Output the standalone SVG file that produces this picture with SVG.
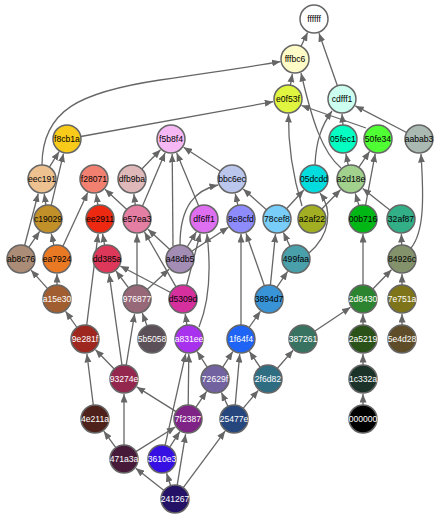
<svg xmlns="http://www.w3.org/2000/svg" width="441" height="520" viewBox="0 0 441 520">
<style>
.e{fill:none;stroke:#666;stroke-width:1.3;marker-end:url(#ah)}
.n circle{stroke:#666;stroke-width:1.5}
.n text{font-family:"Liberation Sans",Arial,sans-serif;font-size:8.6px;text-anchor:middle;dominant-baseline:central;fill:#000}
.n.w text{fill:#fff}
</style>
<defs>
<marker id="ah" markerUnits="userSpaceOnUse" markerWidth="9" markerHeight="7" refX="8.5" refY="3.5" orient="auto">
<path d="M0,0 L8.5,3.5 L0,7 z" fill="#666"/>
</marker>
</defs>
<rect width="441" height="520" fill="#fff"/>
<g id="edges">
<path class="e" d="M301,46.4 L307.6,32.5"/>
<path class="e" d="M337.4,85.8 L319,33.2"/>
<path class="e" d="M290.4,85.2 L292.4,73.8"/>
<path class="e" d="M42,165 C42,110 80,92 160,80 S255,66 280.5,61.6"/>
<path class="e" d="M80.8,136.5 L273.2,101.7"/>
<path class="e" d="M341,168 C322,152 312,120 301,73"/>
<path class="e" d="M302,206 C294,180 288,150 288.5,114"/>
<path class="e" d="M366,128 L301.5,105.5"/>
<path class="e" d="M343,125 L342,114"/>
<path class="e" d="M406.6,132.5 L355.3,105.9"/>
<path class="e" d="M315,165 C316,140 322,125 332,111"/>
<path class="e" d="M348.3,165.3 L345.9,153.7"/>
<path class="e" d="M358.8,167.4 L369.6,151.4"/>
<path class="e" d="M365.6,205.2 L375.2,153.7"/>
<path class="e" d="M411,248 C424,232 424,200 421,154"/>
<path class="e" d="M49.4,167.1 L59.1,151.7"/>
<path class="e" d="M51.2,205.4 L63.5,153.6"/>
<path class="e" d="M45.9,205.2 L44.2,193.8"/>
<path class="e" d="M24.6,245.5 L38.2,193.5"/>
<path class="e" d="M28.8,247.4 L39.6,231.4"/>
<path class="e" d="M53.9,245.3 L51.3,233.6"/>
<path class="e" d="M62.9,246.3 L87.7,192.6"/>
<path class="e" d="M97.9,205.2 L96.2,193.8"/>
<path class="e" d="M126.8,209.5 L105,189.2"/>
<path class="e" d="M135.3,205.1 L133.9,193.9"/>
<path class="e" d="M142.5,206.1 L165.1,152.8"/>
<path class="e" d="M141.8,169 L160.5,149.7"/>
<path class="e" d="M173,246 L172.2,154"/>
<path class="e" d="M198.7,206 L176.7,152.9"/>
<path class="e" d="M220.3,171.3 L183.6,147.2"/>
<path class="e" d="M237.9,205.3 L235.3,193.6"/>
<path class="e" d="M266.5,209.7 L243.2,189"/>
<path class="e" d="M180,245 C180,205 196,190 218,185"/>
<path class="e" d="M286.5,208.7 L303.8,190"/>
<path class="e" d="M309,253 C330,235 333,210 320,193"/>
<path class="e" d="M321.8,209 L340.5,189.7"/>
<path class="e" d="M359,205.6 L355.3,193.4"/>
<path class="e" d="M390.1,210.3 L362.7,188.4"/>
<path class="e" d="M401.7,245 L401.4,234"/>
<path class="e" d="M363,285 L363,234"/>
<path class="e" d="M372.8,289 L391.5,269.7"/>
<path class="e" d="M402,285 L402,274"/>
<path class="e" d="M402,325 L402,314"/>
<path class="e" d="M363,325 L363,314"/>
<path class="e" d="M363,365 L363,354"/>
<path class="e" d="M363,405 L363,394"/>
<path class="e" d="M314.6,331.2 L350.5,307.3"/>
<path class="e" d="M277.2,368.5 L293.1,350.3"/>
<path class="e" d="M260.2,367.4 L249.4,351.4"/>
<path class="e" d="M243.1,408.3 L258.3,390.4"/>
<path class="e" d="M235.2,405.1 L239.7,354.1"/>
<path class="e" d="M228,406.4 L221.4,392.5"/>
<path class="e" d="M222.6,367.3 L232.8,351.6"/>
<path class="e" d="M207.4,367.3 L197.2,351.6"/>
<path class="e" d="M241,325 L241,234"/>
<path class="e" d="M249,327.5 L260.4,311.3"/>
<path class="e" d="M264.4,285.8 L246,233.2"/>
<path class="e" d="M270.4,285.1 L275.5,233.9"/>
<path class="e" d="M276.8,287.4 L287.6,271.4"/>
<path class="e" d="M290,246.4 L283.4,232.5"/>
<path class="e" d="M191.7,251.3 L228.4,227.2"/>
<path class="e" d="M187.2,247 L196.3,231.9"/>
<path class="e" d="M169.8,249.5 L148,229.2"/>
<path class="e" d="M137,285 L137,234"/>
<path class="e" d="M147.2,289.5 L169,269.2"/>
<path class="e" d="M128.6,287.8 L116,271"/>
<path class="e" d="M176,286.9 L144.5,232"/>
<path class="e" d="M170.6,292.5 L120.3,266"/>
<path class="e" d="M186.6,285.5 L200.2,233.5"/>
<path class="e" d="M186.9,325.2 L185.2,313.8"/>
<path class="e" d="M199,327 C210,300 211,268 207,234"/>
<path class="e" d="M147.1,325.9 L142.3,313.1"/>
<path class="e" d="M126.2,365.2 L134.6,313.8"/>
<path class="e" d="M122,365.1 L109.1,273.9"/>
<path class="e" d="M114.2,369 L95.5,349.7"/>
<path class="e" d="M104.6,245.2 L102.6,233.8"/>
<path class="e" d="M86.7,325.1 L98.1,233.9"/>
<path class="e" d="M77,327.5 L65.6,311.3"/>
<path class="e" d="M47.6,288.6 L31,270.1"/>
<path class="e" d="M57,285 L57,274"/>
<path class="e" d="M93.3,405.1 L86.9,353.9"/>
<path class="e" d="M115.8,447.7 L103.8,431.2"/>
<path class="e" d="M124,445 L124,394"/>
<path class="e" d="M135.9,451.6 L175.3,427"/>
<path class="e" d="M176.1,411.6 L136.7,386.9"/>
<path class="e" d="M188.2,405 L188.8,354"/>
<path class="e" d="M195.8,407.4 L206.6,391.4"/>
<path class="e" d="M169.6,447.3 L179.8,431.6"/>
<path class="e" d="M165.1,445.3 L185.7,353.6"/>
<path class="e" d="M170.7,485.7 L166.6,473.3"/>
<path class="e" d="M164,490.4 L135.8,468.3"/>
<path class="e" d="M177.2,485.2 L185.6,434.2"/>
<path class="e" d="M183.3,487.7 L225.1,431.1"/>
</g>
<g id="n-ffffff" class="n"><circle cx="314" cy="19" r="14" fill="#ffffff"/><text x="314" y="19">ffffff</text></g>
<g id="n-fffbc6" class="n"><circle cx="295" cy="59" r="14" fill="#fffbc6"/><text x="295" y="59">fffbc6</text></g>
<g id="n-e0f53f" class="n"><circle cx="288" cy="99" r="14" fill="#e0f53f"/><text x="288" y="99">e0f53f</text></g>
<g id="n-cdfff1" class="n"><circle cx="342" cy="99" r="14" fill="#cdfff1"/><text x="342" y="99">cdfff1</text></g>
<g id="n-f8cb1a" class="n"><circle cx="67" cy="139" r="14" fill="#f8cb1a"/><text x="67" y="139">f8cb1a</text></g>
<g id="n-f5b8f4" class="n"><circle cx="171" cy="139" r="14" fill="#f5b8f4"/><text x="171" y="139">f5b8f4</text></g>
<g id="n-05fec1" class="n"><circle cx="343" cy="139" r="14" fill="#05fec1"/><text x="343" y="139">05fec1</text></g>
<g id="n-50fe34" class="n"><circle cx="378" cy="139" r="14" fill="#50fe34"/><text x="378" y="139">50fe34</text></g>
<g id="n-aabab3" class="n"><circle cx="419" cy="139" r="14" fill="#aabab3"/><text x="419" y="139">aabab3</text></g>
<g id="n-eec191" class="n"><circle cx="42" cy="179" r="14" fill="#eec191"/><text x="42" y="179">eec191</text></g>
<g id="n-f28071" class="n"><circle cx="94" cy="179" r="14" fill="#f28071"/><text x="94" y="179">f28071</text></g>
<g id="n-dfb9ba" class="n"><circle cx="132" cy="179" r="14" fill="#dfb9ba"/><text x="132" y="179">dfb9ba</text></g>
<g id="n-bbc6ec" class="n"><circle cx="232" cy="179" r="14" fill="#bbc6ec"/><text x="232" y="179">bbc6ec</text></g>
<g id="n-05dcdd" class="n"><circle cx="314" cy="179" r="14" fill="#05dcdd"/><text x="314" y="179">05dcdd</text></g>
<g id="n-a2d18e" class="n"><circle cx="351" cy="179" r="14" fill="#a2d18e"/><text x="351" y="179">a2d18e</text></g>
<g id="n-c19029" class="n"><circle cx="48" cy="219" r="14" fill="#c19029"/><text x="48" y="219">c19029</text></g>
<g id="n-ee2911" class="n"><circle cx="100" cy="219" r="14" fill="#ee2911"/><text x="100" y="219">ee2911</text></g>
<g id="n-e57ea3" class="n"><circle cx="137" cy="219" r="14" fill="#e57ea3"/><text x="137" y="219">e57ea3</text></g>
<g id="n-df6ff1" class="n"><circle cx="204" cy="219" r="14" fill="#df6ff1"/><text x="204" y="219">df6ff1</text></g>
<g id="n-8e8cfd" class="n"><circle cx="241" cy="219" r="14" fill="#8e8cfd"/><text x="241" y="219">8e8cfd</text></g>
<g id="n-78cef8" class="n"><circle cx="277" cy="219" r="14" fill="#78cef8"/><text x="277" y="219">78cef8</text></g>
<g id="n-a2af22" class="n"><circle cx="312" cy="219" r="14" fill="#a2af22"/><text x="312" y="219">a2af22</text></g>
<g id="n-00b716" class="n"><circle cx="363" cy="219" r="14" fill="#00b716"/><text x="363" y="219">00b716</text></g>
<g id="n-32af87" class="n"><circle cx="401" cy="219" r="14" fill="#32af87"/><text x="401" y="219">32af87</text></g>
<g id="n-ab8c76" class="n"><circle cx="21" cy="259" r="14" fill="#ab8c76"/><text x="21" y="259">ab8c76</text></g>
<g id="n-ea7924" class="n"><circle cx="57" cy="259" r="14" fill="#ea7924"/><text x="57" y="259">ea7924</text></g>
<g id="n-dd385a" class="n"><circle cx="107" cy="259" r="14" fill="#dd385a"/><text x="107" y="259">dd385a</text></g>
<g id="n-a48db5" class="n"><circle cx="180" cy="259" r="14" fill="#a48db5"/><text x="180" y="259">a48db5</text></g>
<g id="n-499faa" class="n"><circle cx="296" cy="259" r="14" fill="#499faa"/><text x="296" y="259">499faa</text></g>
<g id="n-84926c" class="n"><circle cx="402" cy="259" r="14" fill="#84926c"/><text x="402" y="259">84926c</text></g>
<g id="n-a15e30" class="n w"><circle cx="57" cy="299" r="14" fill="#a15e30"/><text x="57" y="299">a15e30</text></g>
<g id="n-976877" class="n w"><circle cx="137" cy="299" r="14" fill="#976877"/><text x="137" y="299">976877</text></g>
<g id="n-d5309d" class="n"><circle cx="183" cy="299" r="14" fill="#d5309d"/><text x="183" y="299">d5309d</text></g>
<g id="n-3894d7" class="n"><circle cx="269" cy="299" r="14" fill="#3894d7"/><text x="269" y="299">3894d7</text></g>
<g id="n-2d8430" class="n w"><circle cx="363" cy="299" r="14" fill="#2d8430"/><text x="363" y="299">2d8430</text></g>
<g id="n-7e751a" class="n w"><circle cx="402" cy="299" r="14" fill="#7e751a"/><text x="402" y="299">7e751a</text></g>
<g id="n-9e281f" class="n w"><circle cx="85" cy="339" r="14" fill="#9e281f"/><text x="85" y="339">9e281f</text></g>
<g id="n-5b5058" class="n w"><circle cx="152" cy="339" r="14" fill="#5b5058"/><text x="152" y="339">5b5058</text></g>
<g id="n-a831ee" class="n w"><circle cx="189" cy="339" r="14" fill="#a831ee"/><text x="189" y="339">a831ee</text></g>
<g id="n-1f64f4" class="n w"><circle cx="241" cy="339" r="14" fill="#1f64f4"/><text x="241" y="339">1f64f4</text></g>
<g id="n-387261" class="n w"><circle cx="303" cy="339" r="14" fill="#387261"/><text x="303" y="339">387261</text></g>
<g id="n-2a5219" class="n w"><circle cx="363" cy="339" r="14" fill="#2a5219"/><text x="363" y="339">2a5219</text></g>
<g id="n-5e4d28" class="n w"><circle cx="402" cy="339" r="14" fill="#5e4d28"/><text x="402" y="339">5e4d28</text></g>
<g id="n-93274e" class="n w"><circle cx="124" cy="379" r="14" fill="#93274e"/><text x="124" y="379">93274e</text></g>
<g id="n-72629f" class="n w"><circle cx="215" cy="379" r="14" fill="#72629f"/><text x="215" y="379">72629f</text></g>
<g id="n-2f6d82" class="n w"><circle cx="268" cy="379" r="14" fill="#2f6d82"/><text x="268" y="379">2f6d82</text></g>
<g id="n-1c332a" class="n w"><circle cx="363" cy="379" r="14" fill="#1c332a"/><text x="363" y="379">1c332a</text></g>
<g id="n-4e211a" class="n w"><circle cx="95" cy="419" r="14" fill="#4e211a"/><text x="95" y="419">4e211a</text></g>
<g id="n-7f2387" class="n w"><circle cx="188" cy="419" r="14" fill="#7f2387"/><text x="188" y="419">7f2387</text></g>
<g id="n-25477e" class="n w"><circle cx="234" cy="419" r="14" fill="#25477e"/><text x="234" y="419">25477e</text></g>
<g id="n-000000" class="n w"><circle cx="363" cy="419" r="14" fill="#000000"/><text x="363" y="419">000000</text></g>
<g id="n-471a3a" class="n w"><circle cx="124" cy="459" r="14" fill="#471a3a"/><text x="124" y="459">471a3a</text></g>
<g id="n-3610e3" class="n w"><circle cx="162" cy="459" r="14" fill="#3610e3"/><text x="162" y="459">3610e3</text></g>
<g id="n-241267" class="n w"><circle cx="175" cy="499" r="14" fill="#241267"/><text x="175" y="499">241267</text></g>
</svg>
